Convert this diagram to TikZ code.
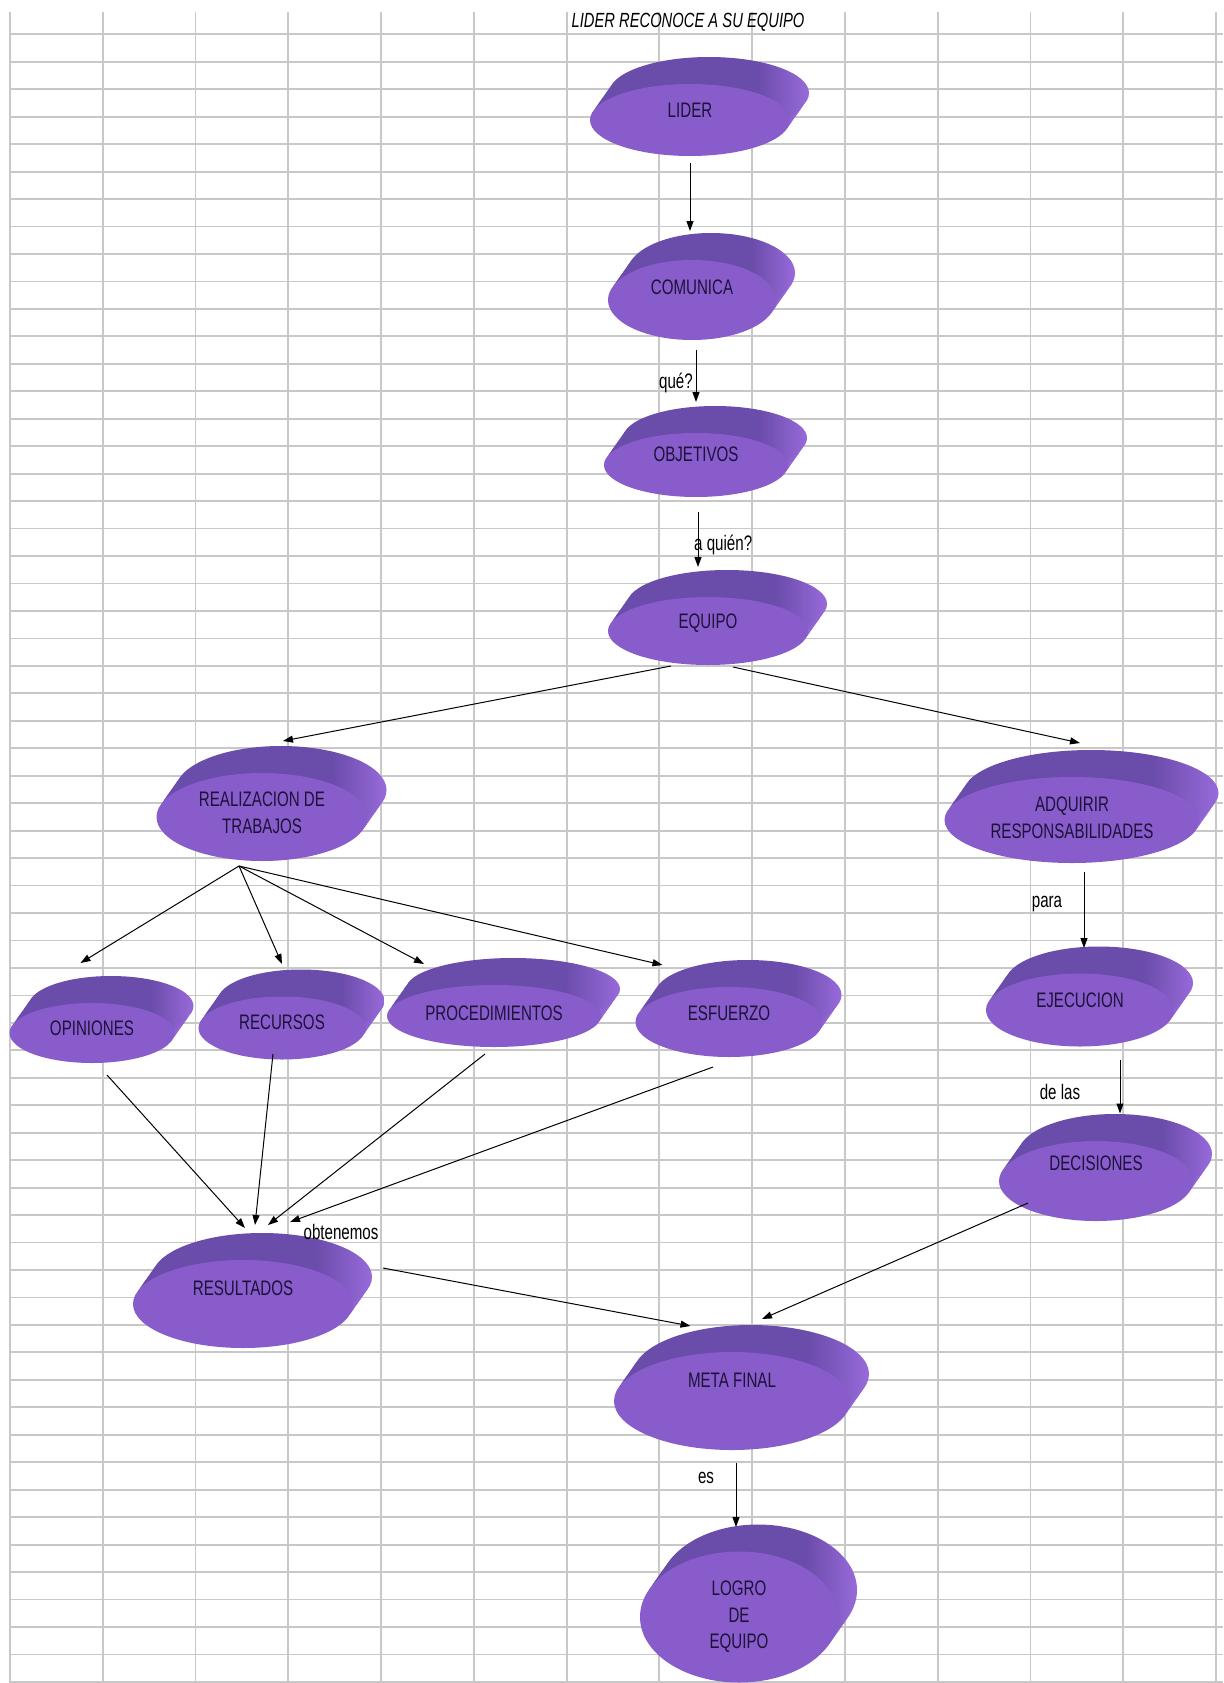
\documentclass[tikz,border=0pt]{standalone}
\usepackage{fontspec}
\setmainfont{Liberation Sans}
\newfontfamily\nar[FakeStretch=0.72]{Liberation Sans}
\usetikzlibrary{arrows.meta,calc,shapes.geometric}
\definecolor{gridc}{RGB}{200,200,200}
\definecolor{front}{RGB}{136,92,202}
\definecolor{dk}{RGB}{106,76,170}
\definecolor{hl}{RGB}{152,106,218}
\definecolor{txt}{RGB}{28,18,58}
\pgfdeclarehorizontalshading{diskside}{100bp}{color(0bp)=(dk); color(25bp)=(dk); color(62bp)=(dk); color(75bp)=(hl); color(100bp)=(hl)}
\tikzset{
  gridline/.style={draw=gridc, line width=1.8pt},
  disk/.style 2 args={ellipse, inner sep=0pt, minimum width=#1pt, minimum height=#2pt, fill=front,
    preaction={shading=diskside, transform canvas={xshift=3.2pt,yshift=4.5pt}},
    preaction={shading=diskside, transform canvas={xshift=6.3pt,yshift=9pt}},
    preaction={shading=diskside, transform canvas={xshift=9.5pt,yshift=13.5pt}},
    preaction={shading=diskside, transform canvas={xshift=12.7pt,yshift=18pt}},
    preaction={shading=diskside, transform canvas={xshift=15.8pt,yshift=22.5pt}},
    preaction={shading=diskside, transform canvas={xshift=19pt,yshift=27pt}}},
  lab/.style={font=\nar\fontsize{21}{26.5}\selectfont, text=txt, align=center},
  small/.style={font=\nar\fontsize{21}{26.5}\selectfont, text=black, inner sep=0pt},
  arr/.style={-{Triangle[length=10pt,width=7pt]}, line width=1pt, black},
}
\begin{document}
\begin{tikzpicture}[x=1pt,y=-1pt]
\fill[white] (0,0) rectangle (1223,1683);
\useasboundingbox (0,0) rectangle (1223,1683);
% grid
\foreach \k in {0,...,13} \draw[gridline] ({10+\k*92.77},12) -- ({10+\k*92.77},1683);
\foreach \k in {0,...,60} \draw[gridline] (10,{34.3+\k*27.46}) -- (1223,{34.3+\k*27.46});
% title
\node[font=\nar\itshape\fontsize{20.5}{24}\selectfont, inner sep=0pt] (title) at (688,22) {LIDER RECONOCE A SU EQUIPO};
% disks
\node[disk={200}{72}, label={[lab,yshift=10pt]center:LIDER}] (lider) at (690,120) {};
\node[disk={168}{80}, label={[lab,yshift=13pt]center:COMUNICA}] (comunica) at (692,300) {};
\node[disk={184}{64}, label={[lab,yshift=11pt]center:OBJETIVOS}] (objetivos) at (696,465) {};
\node[disk={200}{68}, label={[lab,yshift=8pt]center:EQUIPO}] (equipo) at (708,631) {};
\node[disk={211}{88}, label={[lab,yshift=4pt]center:{REALIZACION DE\\TRABAJOS}}] (realiz) at (262,817) {};
\node[disk={255}{86}, label={[lab,yshift=2pt]center:{ADQUIRIR\\RESPONSABILIDADES}}] (adquirir) at (1072,820) {};
\node[disk={165}{60}, label={[lab,yshift=5pt]center:OPINIONES}] (opiniones) at (92,1033) {};
\node[disk={167}{63}, label={[lab,yshift=6pt]center:RECURSOS}] (recursos) at (282,1028) {};
\node[disk={214}{62}, label={[lab,yshift=3pt]center:PROCEDIMIENTOS}] (proced) at (494,1016) {};
\node[disk={187}{70}, label={[lab,yshift=9pt]center:ESFUERZO}] (esfuerzo) at (729,1022) {};
\node[disk={188}{73}, label={[lab,yshift=10pt]center:EJECUCION}] (ejecucion) at (1080,1010) {};
\node[disk={194}{80}, label={[lab,yshift=18pt]center:DECISIONES}] (decisiones) at (1096,1181) {};
\node[disk={220}{88}, label={[lab,yshift=16pt]center:RESULTADOS}] (resultados) at (243,1304) {};
\node[disk={236}{98}, label={[lab,yshift=21pt]center:META FINAL}] (meta) at (732,1401) {};
\node[disk={198}{131}, label={[lab]center:{LOGRO\\DE\\EQUIPO}}] (logro) at (739,1617) {};
% connectors
\draw[arr] ($(lider)+(0,43)$) -- ($(comunica)+(-2,-69)$);
\draw[arr] ($(comunica)+(4,50)$) -- ($(objetivos)+(0,-63)$);
\draw[arr] ($(objetivos)+(2,47)$) -- ($(equipo)+(-10,-64)$);
\draw[arr] ($(equipo)+(-37,35)$) -- ($(realiz)+(21,-76)$);
\draw[arr] ($(equipo)+(25,36)$) -- ($(adquirir)+(8,-77)$);
\draw[arr] ($(realiz)+(-23,49)$) -- ($(opiniones)+(-11.5,-70)$);
\draw[arr] ($(realiz)+(-23,49)$) -- ($(recursos)+(0,-64)$);
\draw[arr] ($(realiz)+(-23,49)$) -- ($(proced)+(-70,-52)$);
\draw[arr] ($(realiz)+(-23,49)$) -- ($(esfuerzo)+(-66.5,-57)$);
\draw[arr] ($(adquirir)+(12,52)$) -- ($(ejecucion)+(4,-62)$);
\draw[arr] ($(ejecucion)+(40,50)$) -- ($(decisiones)+(24,-67.5)$);
\draw[arr] ($(opiniones)+(15,42)$) -- ($(resultados)+(2,-76)$);
\draw[arr] ($(recursos)+(-9,26)$) -- ($(resultados)+(12,-79)$);
\draw[arr] ($(proced)+(-9,38)$) -- ($(resultados)+(25,-79)$);
\draw[arr] ($(esfuerzo)+(-16,45)$) -- ($(resultados)+(47,-82)$);
\draw[arr] ($(resultados)+(140,-36)$) -- ($(meta)+(-41.5,-75)$);
\draw[arr] ($(decisiones)+(-68,22)$) -- ($(meta)+(30,-82)$);
\draw[arr] ($(meta)+(4,62)$) -- ($(logro)+(-3,-90)$);
% connector labels
\node[small, anchor=east] (lque) at (693,383) {qué?};
\node[small, anchor=west] (lquien) at (694,545) {a quién?};
\node[small] (lpara) at (1047,904) {para};
\node[small] (ldelas) at (1060,1092) {de las};
\node[small] (lobt) at (341,1232) {obtenemos};
\node[small] (les) at (706,1478) {es};
\end{tikzpicture}
\end{document}
